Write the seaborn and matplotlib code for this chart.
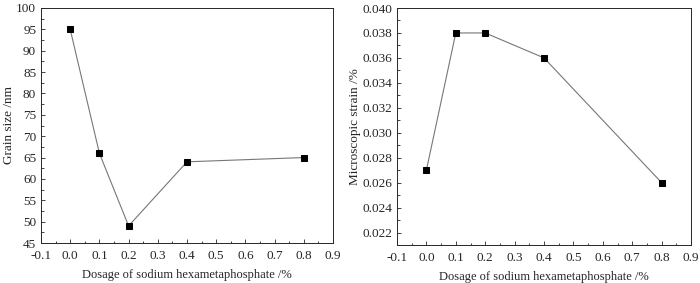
import matplotlib
matplotlib.use("Agg")
import matplotlib.pyplot as plt
import seaborn as sns
import pandas as pd
from matplotlib.ticker import MultipleLocator, AutoMinorLocator

dosage = [0.0, 0.1, 0.2, 0.4, 0.8]
grain_size = [95, 66, 49, 64, 65]
micro_strain = [0.027, 0.038, 0.038, 0.036, 0.026]

df = pd.DataFrame({"dosage": dosage, "grain": grain_size, "strain": micro_strain})

sns.set_style("ticks")
plt.rcParams['font.family'] = ['Liberation Serif', 'DejaVu Serif']
plt.rcParams['font.size'] = 8

fig = plt.figure(figsize=(7, 2.83), dpi=100)
ax1 = fig.add_axes([41/700, 1 - 243/283, 292/700, 235/283])
ax2 = fig.add_axes([397/700, 1 - 245/283, 294/700, 237/283])

for ax, col in [(ax1, "grain"), (ax2, "strain")]:
    sns.lineplot(x="dosage", y=col, data=df, ax=ax, color="#777777", linewidth=0.8,
                 marker="s", markersize=5, markerfacecolor="black", markeredgecolor="black")
    ax.set_xlim(-0.1, 0.9)
    ax.xaxis.set_major_locator(MultipleLocator(0.1))
    ax.xaxis.set_minor_locator(AutoMinorLocator(2))
    ax.yaxis.set_minor_locator(AutoMinorLocator(2))
    ax.tick_params(which="both", direction="in", top=False, right=False, labelsize=9.5, width=0.6)
    ax.tick_params(axis="x", pad=5)
    ax.tick_params(which="major", length=3)
    ax.tick_params(which="minor", length=1.8)
    for s in ax.spines.values():
        s.set_linewidth(0.7)
    ax.set_xlabel("Dosage of sodium hexametaphosphate /%", fontsize=9, labelpad=5)
    ax.set_xticklabels([f"{v:.1f}" for v in ax.get_xticks()])

ax1.set_ylim(45, 100)
ax1.yaxis.set_major_locator(MultipleLocator(5))
ax1.set_ylabel("Grain size /nm", fontsize=9.5, labelpad=1)

ax2.set_ylim(0.021, 0.040)
ax2.yaxis.set_major_locator(MultipleLocator(0.002))
ax2.yaxis.set_major_formatter(matplotlib.ticker.FormatStrFormatter("%.3f"))
ax2.set_ylabel("Microscopic strain /%", fontsize=9.5, labelpad=1)

fig.savefig("out.png", dpi=100)
